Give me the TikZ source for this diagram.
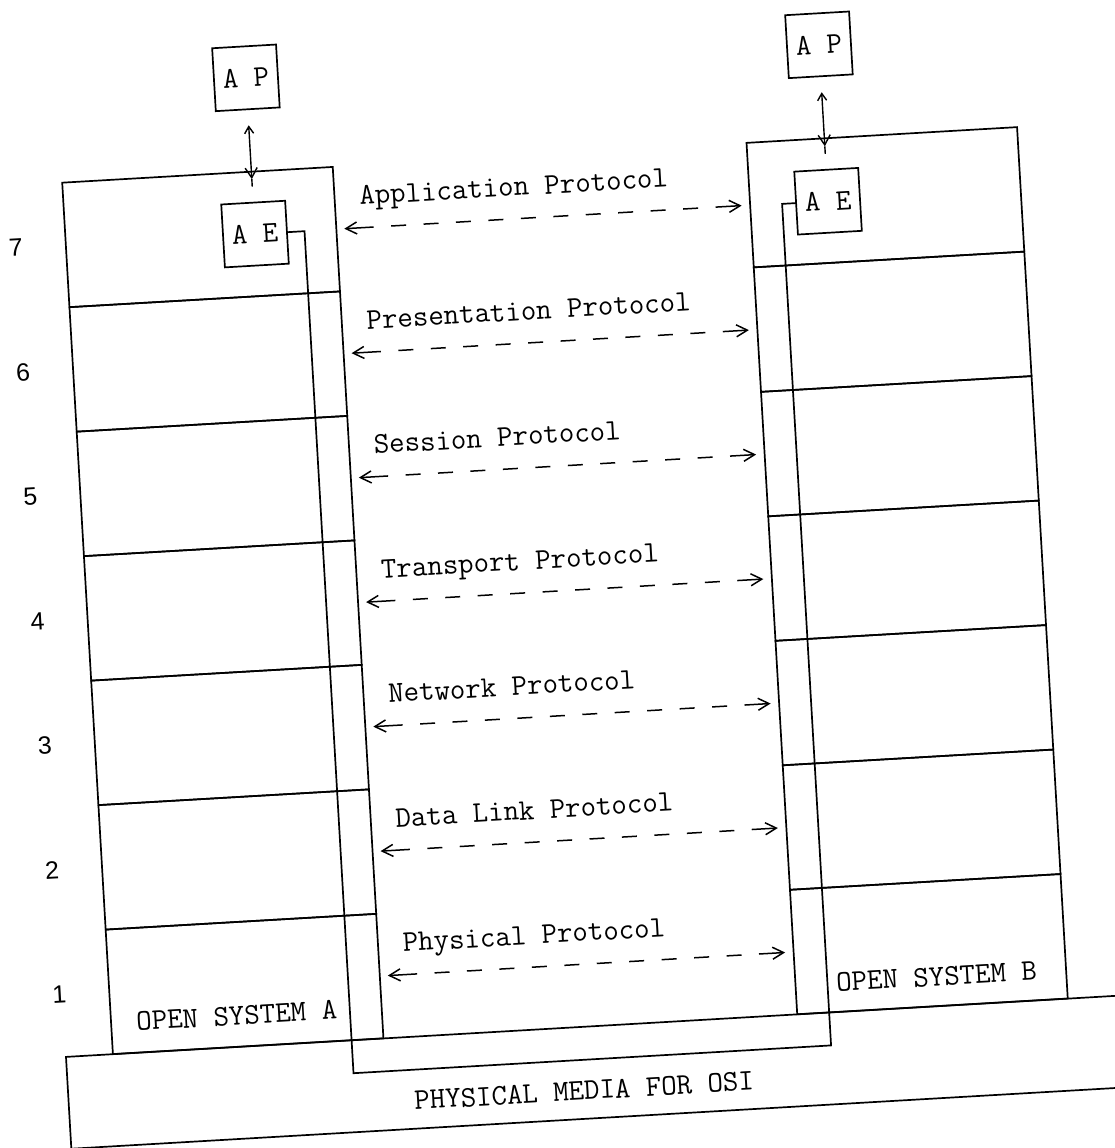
\documentclass[tikz,border=0pt]{standalone}
\usepackage{fontspec}
\newfontfamily\numfont{Liberation Sans}
\usetikzlibrary{arrows.meta,calc}
\newcommand{\tyfnt}{\fontsize{30}{36}\selectfont\ttfamily\addfontfeature{FakeBold=1.2}}
\begin{document}
\begin{tikzpicture}[x=1pt,y=-1pt,line width=1.7pt,
  layer/.style={draw,minimum width=271pt,minimum height=124.7pt,inner sep=0pt,outer sep=0pt},
  apbox/.style={draw,minimum width=64pt,minimum height=63pt,inner sep=0pt,outer sep=0pt,font=\tyfnt},
  lbl/.style={anchor=base west,inner sep=0pt,font=\tyfnt},
  num/.style={inner sep=0pt,font=\fontsize{25}{30}\selectfont\numfont},
  proto/.style={{Straight Barb[length=11pt,width=12pt]}-{Straight Barb[length=11pt,width=12pt]},line width=1.5pt,shorten <=8pt,shorten >=8.5pt,
    dash pattern=on 27pt off 17.5pt on 15pt off 17.5pt on 15pt off 17.5pt on 15pt off 17.5pt on 15pt off 17.5pt on 15pt off 17.5pt on 15pt off 17.5pt on 15pt off 17.5pt on 15pt off 17.5pt on 15pt off 17.5pt on 15pt off 17.5pt on 40pt},
  aparrow/.style={{Straight Barb[length=7pt,width=9pt]}-{Straight Barb[length=10pt,width=12pt]},line width=1.4pt,shorten <=16pt},
  ]
\useasboundingbox (0,0) rectangle (1115,1148);
\clip (0,0) rectangle (1115,1148);
\begin{scope}[rotate=3.33,transform shape]
  % physical media
  \node[draw,minimum width=1145.5pt,minimum height=92pt,inner sep=0pt,outer sep=0pt] (pm) at (577.25,1105) {};
  \node[lbl] (pmt) at (349,1132) {PHYSICAL MEDIA FOR OSI};
  % layers
  \foreach \n in {1,...,7}{
    \node[layer] (A\n) at (187,{186+(7-\n+0.5)*124.7}) {};
    \node[layer] (B\n) at (872.5,{186+(7-\n+0.5)*124.7}) {};
    \node[num] (n\n) at (1.5,{186+(7-\n+0.5)*124.7}) {\n};
  }
  % AP / AE boxes
  \node[apbox] (apA) at (241,92) {A P};
  \node[apbox] (aeA) at (241,248.5) {A E};
  \node[apbox] (apB) at (815,92.3) {A P};
  \node[apbox] (aeB) at (815,249) {A E};
  % AP <-> system arrows
  \coordinate (tipA) at (241,193.5);
  \coordinate (endA) at (241,201);
  \coordinate (tipB) at (815,194);
  \coordinate (endB) at (815,201.5);
  \draw[aparrow] (apA.south) -- (tipA);
  \draw[line width=1.4pt] (tipA) -- (endA);
  \draw[aparrow] (apB.south) -- (tipB);
  \draw[line width=1.4pt] (tipB) -- (endB);
  % AE connection path
  \coordinate (uA1) at (290.6,248.5);
  \coordinate (uA2) at (290.6,1092);
  \coordinate (uB2) at (769,1092);
  \coordinate (uB1) at (769,249);
  \draw (aeA.east) -- (uA1) -- (uA2) -- (uB2) -- (uB1) -- (aeB.west);
  % protocols
  \foreach \n/\t in {7/Application,6/Presentation,5/Session,4/Transport,3/Network,2/Data Link,1/Physical}{
    \draw[proto] (A\n.east) -- (B\n.west);
    \node[lbl] (t\n) at (346.5,{186+(7-\n+0.5)*124.7-23}) {\t\ Protocol};
  }
  % system labels
  \node[lbl] (osA) at (76,1037) {OPEN SYSTEM A};
  \node[lbl] (osB) at (777,1038.5) {OPEN SYSTEM B};
\end{scope}
\end{tikzpicture}
\end{document}
